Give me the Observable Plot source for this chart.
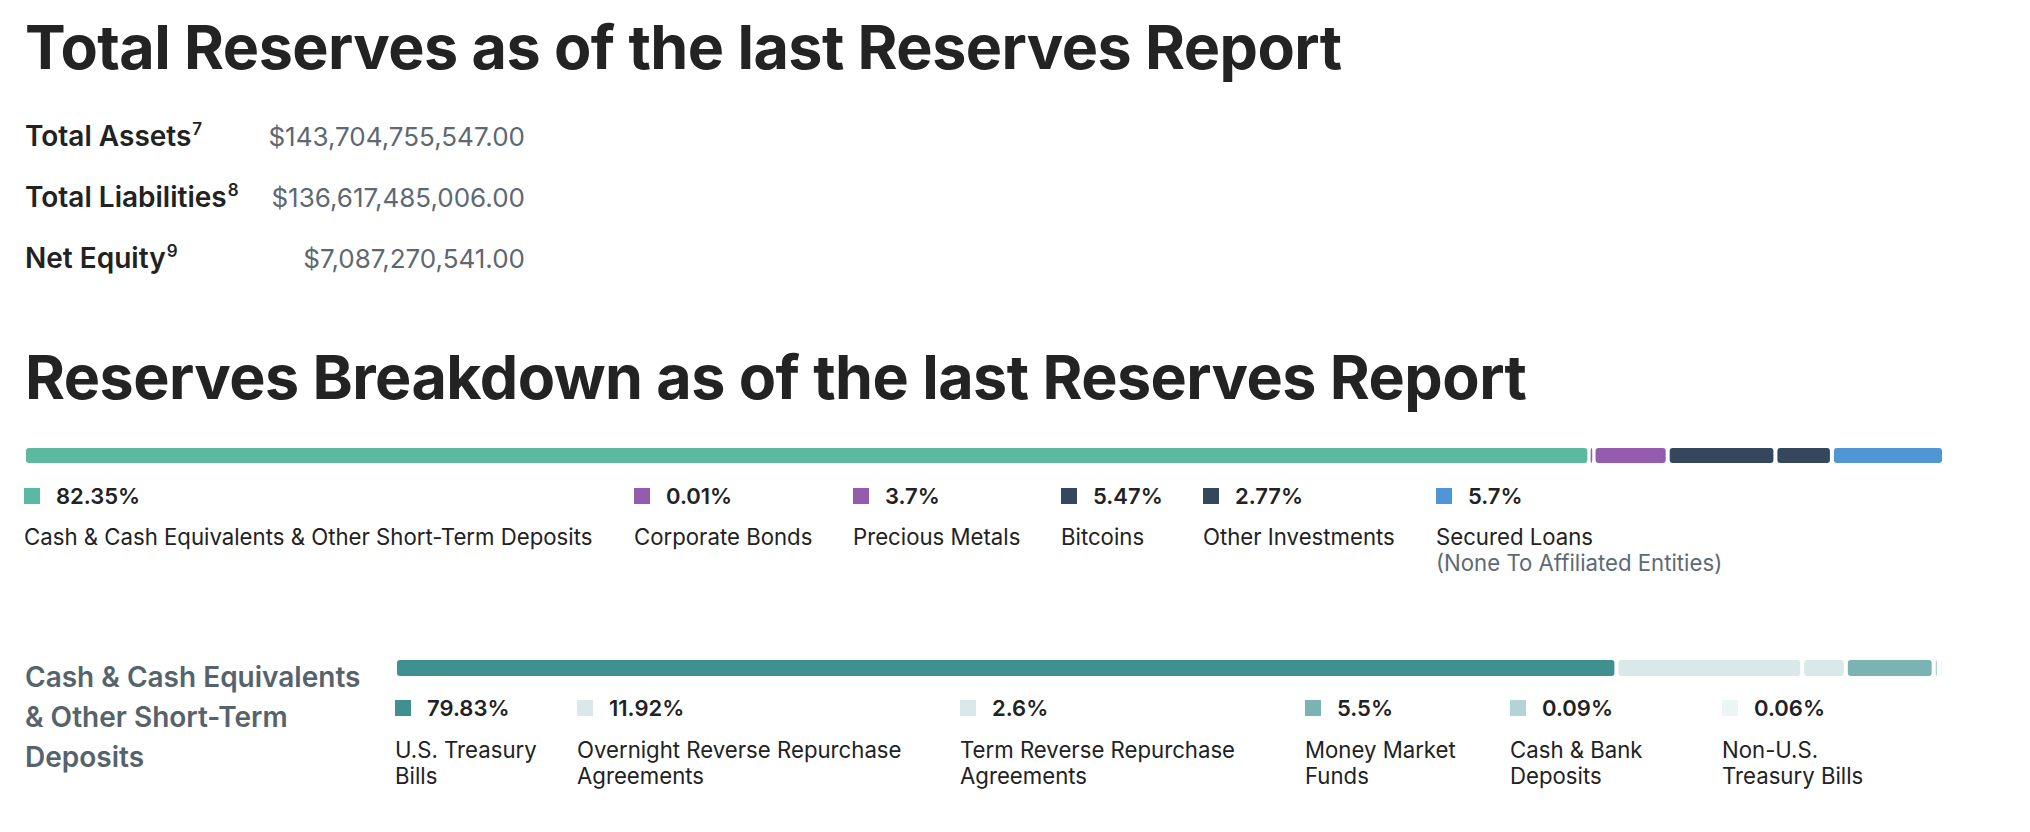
<!DOCTYPE html>
<html>
<head>
<meta charset="utf-8">
<script src="https://cdn.jsdelivr.net/npm/d3@7"></script>
<script src="https://cdn.jsdelivr.net/npm/@observablehq/plot@0.6"></script>
<style>
  html, body { margin: 0; padding: 0; background: #fff; }
  #root { position: relative; width: 2030px; height: 832px; overflow: hidden;
          font-family: Inter, "Noto Sans", sans-serif; color: #222; background: #fff; }
  .abs { position: absolute; }
  .title { font-weight: 700; font-size: 61px; line-height: 61px; color: #232323; white-space: nowrap; letter-spacing: -0.009em; }
  .row { display: flex; justify-content: space-between; align-items: baseline; width: 500px; }
  .row .lab { font-weight: 600; font-size: 28px; line-height: 34px; color: #222; white-space: nowrap; }
  .row .lab .sup { font-size: 17px; position: relative; top: -11px; margin-left: 1px; }
  .row .val { font-weight: 400; font-size: 26px; line-height: 34px; color: #5d6872; white-space: nowrap; }
  .legend { display: grid; }
  .item .head { display: flex; align-items: center; height: 16px; }
  .item .sw { width: 16px; height: 16px; flex: none; }
  .item .pct { margin-left: 16px; font-size: 22px; line-height: 16px; font-weight: 600; color: #222; white-space: nowrap; }
  .item .name { font-size: 22.2px; line-height: 26px; font-weight: 400; color: #222; white-space: pre-line; }
  .item .note { font-size: 22.2px; line-height: 26px; font-weight: 400; color: #5e6a73; white-space: nowrap; }
  .sidelabel { font-weight: 600; font-size: 28px; line-height: 40px; color: #56636d; white-space: nowrap; }
</style>
</head>
<body>
<div id="root"></div>
<script>
// ---------------- data ----------------
const summaryLabels = ["Total Assets", "Total Liabilities", "Net Equity"];
const summaryNotes = ["7", "8", "9"];
const summaryValues = [143704755547.00, 136617485006.00, 7087270541.00];

const reserveCategories = [
  "Cash & Cash Equivalents & Other Short-Term Deposits",
  "Corporate Bonds",
  "Precious Metals",
  "Bitcoins",
  "Other Investments",
  "Secured Loans"
];
const reserveShares = [82.35, 0.01, 3.7, 5.47, 2.77, 5.7];
const reserveNotes = ["", "", "", "", "", "(None To Affiliated Entities)"];

const cashTitle = "Cash & Cash Equivalents\n& Other Short-Term\nDeposits";
const cashCategories = [
  "U.S. Treasury\nBills",
  "Overnight Reverse Repurchase\nAgreements",
  "Term Reverse Repurchase\nAgreements",
  "Money Market\nFunds",
  "Cash & Bank\nDeposits",
  "Non-U.S.\nTreasury Bills"
];
const cashShares = [79.83, 11.92, 2.6, 5.5, 0.09, 0.06];

// ---------------- styles (colours) ----------------
const reservePalette = ["#5ab99e", "#945bae", "#945bae", "#35475d", "#35475d", "#5096d5"];
const cashPalette = ["#3f918f", "#d9e9e9", "#d9e9e9", "#7bb3b3", "#b3d4d4", "#ecf5f5"];

// ---------------- helpers ----------------
const root = document.getElementById("root");
// top of a line box so that the first baseline lands on y (Inter metrics)
const topFor = (baseline, fontSize, lineHeight) => baseline - (lineHeight / 2 + 0.3633 * fontSize);

function addDiv(cls, left, top, html) {
  const d = document.createElement("div");
  d.className = "abs " + cls;
  d.style.left = left + "px";
  d.style.top = top + "px";
  if (html !== undefined) d.innerHTML = html;
  root.appendChild(d);
  return d;
}
const esc = s => s.replace(/&/g, "&amp;").replace(/</g, "&lt;");

// ---------------- titles ----------------
addDiv("title", 25, topFor(70, 61, 61), esc("Total Reserves as of the last Reserves Report"));
addDiv("title", 25, topFor(400, 61, 61), esc("Reserves Breakdown as of the last Reserves Report"));

// ---------------- summary rows ----------------
const fmtMoney = d3.format("$,.2f");
const rowBaselines = [146, 207, 268];
summaryLabels.forEach((lab, i) => {
  const r = addDiv("row", 25, topFor(rowBaselines[i], 28, 34));
  r.innerHTML = `<span class="lab">${esc(lab)}<span class="sup">${summaryNotes[i]}</span></span>` +
                `<span class="val">${fmtMoney(summaryValues[i])}</span>`;
});

// ---------------- stacked bars ----------------
function stackedBar(categories, shares, palette, {left, right, height, gap}) {
  const ends = Array.from(d3.cumsum(shares));
  const rows = categories.map((c, i) => ({category: c, share: shares[i], x1: ends[i] - shares[i], x2: ends[i], i}));
  const total = d3.sum(shares);
  const totalGap = gap * (rows.length - 1);
  return Plot.plot({
    width: 2030,
    height,
    marginTop: 0, marginBottom: 0,
    marginLeft: left,
    marginRight: 2030 - right + totalGap,
    x: {domain: [0, total], axis: null},
    color: {type: "ordinal", domain: categories, range: palette},
    style: {background: "transparent", overflow: "visible"},
    marks: rows.map(r => Plot.barX([r], {
      x1: "x1", x2: "x2", fill: "category", rx: 3,
      dx: r.i * gap,
      insetLeft: r.share < 0.05 ? -0.7 : 0,
      insetRight: r.share < 0.05 ? -0.7 : 0
    }))
  });
}

const bar1 = stackedBar(reserveCategories, reserveShares, reservePalette, {left: 26, right: 1942, height: 15, gap: 4});
bar1.style.position = "absolute"; bar1.style.left = "0px"; bar1.style.top = "448px";
root.appendChild(bar1);

const bar2 = stackedBar(cashCategories, cashShares, cashPalette, {left: 397, right: 1942, height: 16, gap: 4});
bar2.style.position = "absolute"; bar2.style.left = "0px"; bar2.style.top = "660px";
root.appendChild(bar2);

// ---------------- legends ----------------
function legend(categories, shares, notes, scale, left, top, columns, labelGap) {
  const g = addDiv("legend", left, top);
  g.style.gridTemplateColumns = columns;
  categories.forEach((c, i) => {
    const it = document.createElement("div");
    it.className = "item";
    const note = notes && notes[i] ? `<div class="note">${esc(notes[i])}</div>` : "";
    it.innerHTML = `<div class="head"><div class="sw" style="background:${scale.apply(c)}"></div>` +
                   `<div class="pct">${shares[i]}%</div></div>` +
                   `<div class="name" style="margin-top:${labelGap}px">${esc(c)}</div>${note}`;
    g.appendChild(it);
  });
}
legend(reserveCategories, reserveShares, reserveNotes, bar1.scale("color"), 24, 488,
       "610px 219px 208px 142px 233px auto", 20);
legend(cashCategories, cashShares, null, bar2.scale("color"), 395, 700,
       "182px 383px 345px 205px 212px auto", 21);

// ---------------- side label ----------------
const side = addDiv("sidelabel", 25, topFor(687, 28, 40));
side.style.whiteSpace = "pre-line";
side.textContent = cashTitle;
</script>
</body>
</html>
